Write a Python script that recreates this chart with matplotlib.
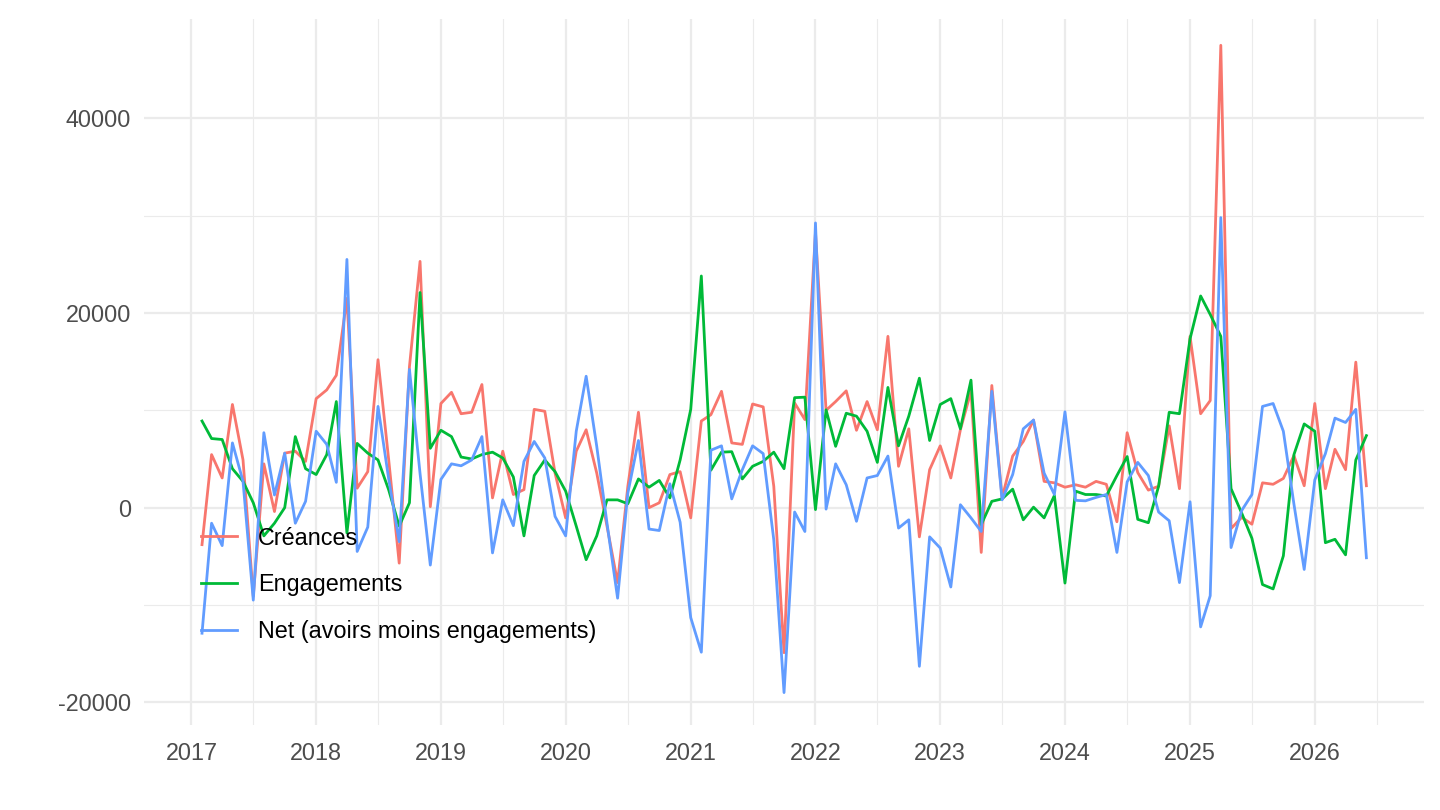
import matplotlib
matplotlib.use("Agg")
import matplotlib.pyplot as plt
import matplotlib.dates as mdates
import pandas as pd

# monthly series, Feb 2017 -> Jun 2026
dates = pd.date_range("2017-02-01", periods=113, freq="MS")

creances = [
    -3800, 5450, 3050, 10600, 4900, -9100, 4500, -400, 5600, 5800, 4750,
    11200, 12100, 13600, 21500, 2000, 3700, 15200, 5000, -5700, 14500, 25300,
    100, 10700, 11850, 9650, 9800, 12650, 1000, 5800, 1350, 1850, 10100,
    9900, 3550, -1050, 5800, 8000, 3550, -1900, -7700, 2200, 9800, 0,
    500, 3400, 3700, -1050, 8900, 9550, 11950, 6650, 6500, 10650, 10350,
    2200, -14900, 10750, 9050, 28300, 10000, 10900, 12000, 7950, 10900, 8000,
    17600, 4250, 8100, -3000, 3900, 6350, 3050, 8000, 11950, -4600, 12550,
    1000, 5300, 6800, 9000, 2700, 2550, 2100, 2350, 2100, 2700, 2400,
    -1450, 7700, 3600, 1800, 2200, 8400, 1950, 17600, 9650, 11000, 47500,
    -2150, -1000, -1700, 2550, 2400, 3000, 5350, 2250, 10700, 1950, 6000,
    3900, 14950, 2250,
]

engagements = [
    8900, 7100, 7000, 4000, 2700, 500, -2900, -1600, 0, 7300, 4000,
    3400, 5450, 10900, -2600, 6600, 5600, 4900, 1850, -1900, 500, 22100,
    6100, 7950, 7300, 5200, 5000, 5450, 5700, 5100, 3150, -2900, 3300,
    4900, 3700, 1700, -1900, -5350, -2900, 800, 800, 400, 2950, 2100,
    2800, 1000, 4900, 10100, 23800, 3850, 5700, 5750, 2950, 4250, 4750,
    5700, 4000, 11300, 11350, -200, 10050, 6300, 9700, 9400, 7850, 4650,
    12350, 6350, 9400, 13300, 6900, 10600, 11200, 8100, 13100, -1750, 650,
    900, 1900, -1250, 50, -1050, 1250, -7750, 1700, 1350, 1350, 1200,
    3300, 5250, -1200, -1550, 2200, 9800, 9650, 17350, 21750, 19850, 17600,
    1950, -550, -3150, -7900, -8350, -4950, 5450, 8600, 7850, -3600, -3250,
    -4850, 4900, 7400,
]

net = [
    -12900, -1600, -3900, 6650, 2700, -9500, 7700, 1300, 5600, -1600, 650,
    7850, 6500, 2600, 25500, -4500, -2000, 10400, 3000, -3500, 14200, 3500,
    -5900, 2900, 4500, 4300, 4900, 7300, -4650, 800, -1850, 4750, 6800,
    5100, -900, -2900, 7850, 13500, 6300, -1600, -9300, 1500, 6900, -2200,
    -2350, 2450, -1500, -11300, -14850, 5900, 6350, 900, 3900, 6350, 5550,
    -3300, -19000, -450, -2450, 29250, -150, 4500, 2350, -1400, 3050, 3300,
    5300, -2100, -1250, -16300, -3000, -4150, -8150, 300, -1050, -2450, 11950,
    800, 3400, 8100, 9000, 3550, 1350, 9850, 750, 700, 1050, 1350,
    -4600, 2650, 4650, 3300, -450, -1350, -7700, 600, -12250, -9050, 29800,
    -4100, -300, 1350, 10400, 10700, 7850, 350, -6350, 2850, 5550, 9200,
    8750, 10100, -5150,
]

labels = ["Créances", "Engagements", "Net (avoirs moins engagements)"]
colors = ["#F8766D", "#00BA38", "#619CFF"]

plt.rcParams['font.family'] = ['Liberation Sans', 'DejaVu Sans']
plt.rcParams['axes.unicode_minus'] = False

fig = plt.figure(figsize=(14.4, 8.1), dpi=100)
ax = fig.add_axes([0.0997, 0.105, 0.8893, 0.8711])

for series, lab, col in zip([creances, engagements, net], labels, colors):
    ax.plot(dates, series, color=col, linewidth=2.0, label=lab)

# axes limits with ggplot-like expansion
ax.set_xlim(pd.Timestamp("2016-08-14"), pd.Timestamp("2026-11-17"))
ax.set_ylim(-22325, 50166)

ax.xaxis.set_major_locator(mdates.YearLocator())
ax.xaxis.set_major_formatter(mdates.DateFormatter("%Y"))
ax.xaxis.set_minor_locator(mdates.MonthLocator(bymonth=7))
ax.set_yticks([-20000, 0, 20000, 40000])
ax.set_yticks([-10000, 10000, 30000], minor=True)

# theme_minimal look
for s in ax.spines.values():
    s.set_visible(False)
ax.grid(which="major", color="#EBEBEB", linewidth=1.6)
ax.grid(which="minor", color="#EBEBEB", linewidth=0.8)
ax.set_axisbelow(True)
ax.tick_params(which="both", length=0)
ax.tick_params(axis="x", labelsize=16.8, labelcolor="#4D4D4D", pad=12)
ax.tick_params(axis="y", labelsize=16.8, labelcolor="#4D4D4D", pad=9)

leg = ax.legend(loc="center left", bbox_to_anchor=(0.1396, 0.278),
                bbox_transform=fig.transFigure, frameon=False,
                fontsize=16.8, handlelength=1.55, handletextpad=0.9,
                labelspacing=1.02, borderpad=0, borderaxespad=0)

plt.savefig("out.png", dpi=100)
